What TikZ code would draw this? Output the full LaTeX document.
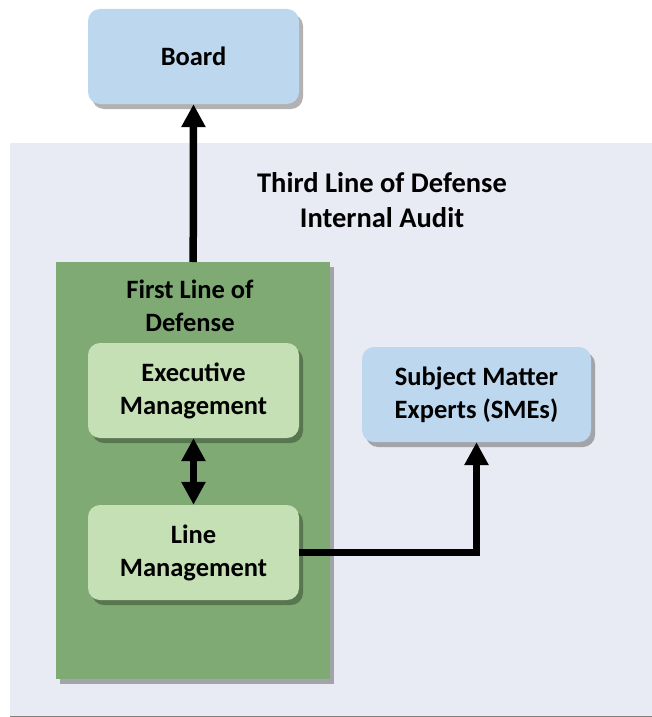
\documentclass[tikz,border=0pt]{standalone}
\usepackage{fontspec}
\setmainfont{Carlito}
\usetikzlibrary{arrows.meta,shadows}
\definecolor{bluebox}{HTML}{BDD7EE}
\definecolor{bgray}{HTML}{E9EBF4}
\definecolor{dgreen}{HTML}{7FAA74}
\definecolor{lgreen}{HTML}{C5E0B4}
\tikzset{
  shad/.style={drop shadow={shadow xshift=4pt,shadow yshift=-5pt,opacity=0.3,fill=black}},
  rbox/.style={draw=none,rounded corners=12pt,minimum width=211pt,minimum height=95pt,align=center,shad},
  bluenode/.style={rbox,fill=bluebox},
  greennode/.style={rbox,fill=lgreen},
  arr/.style={line width=7.5pt,-{Triangle[length=23pt,width=23pt]}},
  arrtwo/.style={line width=7.5pt,{Triangle[length=23pt,width=23pt]}-{Triangle[length=23pt,width=23pt]}},
}
\begin{document}
\begin{tikzpicture}[x=1pt,y=-1pt,font=\bfseries\fontsize{26.5}{33}\selectfont]
\useasboundingbox (0,0) rectangle (651,717);
\node[fill=bgray,minimum width=645pt,minimum height=573pt,anchor=north west,inner sep=0pt] (third) at (10,143) {};
\draw[gray,line width=1.2pt] (third.south west) -- (third.south east);
\node[align=center,font=\bfseries\fontsize{28.5}{35}\selectfont] (thirdlbl) at (382,200) {Third Line of Defense\\Internal Audit};
\node[fill=dgreen,minimum width=274pt,minimum height=417pt,anchor=north west,inner sep=0pt,shad] (first) at (56,262) {};
\node[align=center] (firstlbl) at (190,306) {First Line of\\Defense};
\node[bluenode] (board) at (193.5,56.5) {Board};
\node[greennode] (exec) at (193.5,390.5) {Executive\\Management};
\node[greennode] (line) at (193.5,552.5) {Line\\Management};
\node[bluenode,minimum width=229pt] (sme) at (476.5,394.5) {Subject Matter\\Experts (SMEs)};
\draw[arr] (first.north) -- (board.south);
\draw[arrtwo] (exec.south) -- (line.north);
\draw[arr] (line.east) -| (sme.south);
\end{tikzpicture}
\end{document}
